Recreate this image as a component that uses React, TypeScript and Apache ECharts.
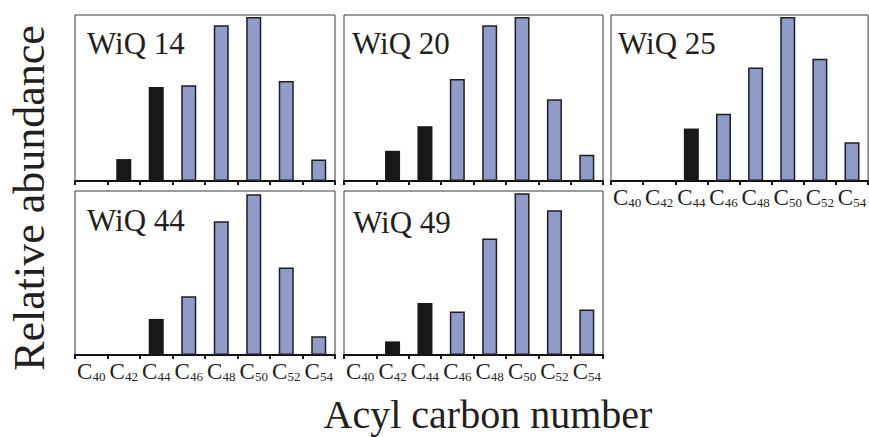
import React, { useEffect, useRef } from 'react';
import * as echarts from 'echarts';

// ---- data ----
const categories = ['C40', 'C42', 'C44', 'C46', 'C48', 'C50', 'C52', 'C54'];
const blackCategories = ['C40', 'C42', 'C44'];
const panelNames = ['WiQ 14', 'WiQ 20', 'WiQ 25', 'WiQ 44', 'WiQ 49'];
const wiq14 = [0, 13.2, 56.7, 57.7, 93.9, 98.8, 60.3, 13.0];
const wiq20 = [0, 18.2, 33.0, 61.5, 93.9, 98.8, 49.2, 15.8];
const wiq25 = [0, 0, 31.6, 40.5, 68.4, 98.8, 73.7, 23.3];
const wiq44 = [0, 0, 22.0, 35.8, 81.5, 98.0, 53.3, 11.4];
const wiq49 = [0, 8.3, 31.7, 26.5, 71.1, 98.6, 88.3, 27.7];
const panelValues = [wiq14, wiq20, wiq25, wiq44, wiq49];
const yAxisTitle = 'Relative abundance';
const xAxisTitle = 'Acyl carbon number';

// ---- layout ----
const grids = [
  { left: 75, top: 15, width: 260, height: 166 },
  { left: 344, top: 15, width: 259, height: 166 },
  { left: 611, top: 15, width: 260, height: 166 },
  { left: 75, top: 191, width: 260, height: 164 },
  { left: 344, top: 191, width: 259, height: 164 },
];
const titlePos = [
  [87, 43],
  [352, 43],
  [618, 43],
  [87, 220],
  [353, 222],
];
const showLabels = [false, false, true, true, true];
const FONT = 'Liberation Serif';
const BLACK = '#17181a';
const BLUE = '#8f9bc9';

export default function App() {
  const ref = useRef<HTMLDivElement>(null);
  useEffect(() => {
    if (!ref.current) return;
    const chart = echarts.init(ref.current, undefined, { renderer: 'svg' });
    const option: any = {
      animation: false,
      backgroundColor: '#ffffff',
      textStyle: { fontFamily: FONT },
      grid: grids.map((g) => ({
        ...g,
        show: true,
        borderColor: '#3a3a3a',
        borderWidth: 1,
        backgroundColor: 'transparent',
        containLabel: false,
      })),
      xAxis: grids.map((_, i) => ({
        gridIndex: i,
        type: 'category',
        data: categories,
        boundaryGap: true,
        axisLine: { show: true, lineStyle: { color: '#111', width: 2 } },
        axisTick: {
          show: true,
          inside: false,
          length: 4,
          interval: 0,
          lineStyle: { color: '#111', width: 2 },
        },
        splitLine: { show: false },
        axisLabel: {
          show: showLabels[i],
          interval: 0,
          margin: 4,
          fontFamily: FONT,
          formatter: (v: string) => `{c|${v.slice(0, 1)}}{s|${v.slice(1)}}`,
          rich: {
            c: { fontFamily: FONT, fontSize: 23, lineHeight: 24, color: '#231f20', verticalAlign: 'bottom' },
            s: { fontFamily: FONT, fontSize: 13, lineHeight: 6, color: '#231f20', verticalAlign: 'bottom' },
          },
        },
      })),
      yAxis: grids.map((_, i) => ({
        gridIndex: i,
        type: 'value',
        min: 0,
        max: 100,
        show: false,
        splitLine: { show: false },
      })),
      series: panelValues.map((vals, i) => ({
        type: 'bar',
        xAxisIndex: i,
        yAxisIndex: i,
        barWidth: 15,
        data: vals.map((v, j) =>
          blackCategories.includes(categories[j])
            ? { value: v, itemStyle: { color: BLACK, borderWidth: 0 } }
            : { value: v, itemStyle: { color: BLUE, borderColor: '#1e1e22', borderWidth: 1.5 } }
        ),
      })),
      graphic: [
        ...panelNames.map((name, i) => ({
          type: 'text',
          x: titlePos[i][0],
          y: titlePos[i][1],
          style: {
            text: name,
            fontFamily: FONT,
            fontSize: 31,
            fill: '#231f20',
            align: 'left',
            verticalAlign: 'middle',
          },
        })),
        {
          type: 'text',
          x: 29,
          y: 198,
          rotation: Math.PI / 2,
          style: {
            text: yAxisTitle,
            fontFamily: FONT,
            fontSize: 44,
            fill: '#231f20',
            align: 'center',
            verticalAlign: 'middle',
          },
        },
        {
          type: 'text',
          x: 488,
          y: 414,
          style: {
            text: xAxisTitle,
            fontFamily: FONT,
            fontSize: 40,
            fill: '#231f20',
            align: 'center',
            verticalAlign: 'middle',
          },
        },
      ],
    };
    chart.setOption(option);
    return () => chart.dispose();
  }, []);
  return (
    <div
      ref={ref}
      style={{ position: 'fixed', left: 0, top: 0, width: 869, height: 437, background: '#fff' }}
    />
  );
}
